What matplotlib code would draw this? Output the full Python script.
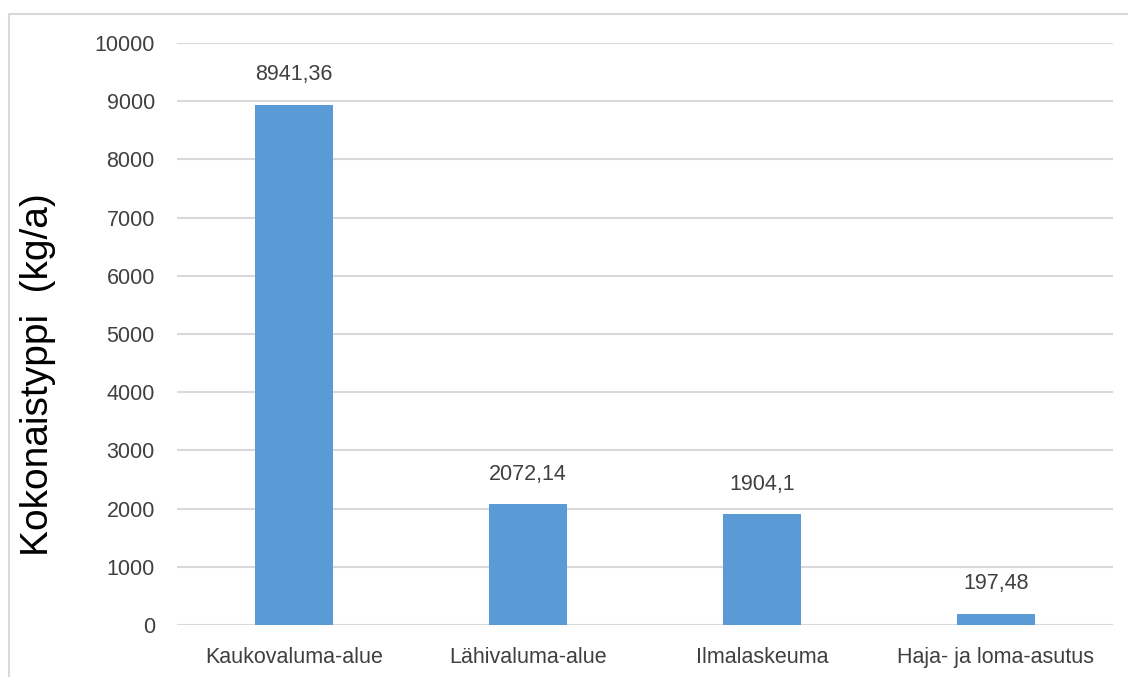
import numpy as np
import matplotlib.pyplot as plt
from matplotlib.patches import Rectangle

categories = ['Kaukovaluma-alue', 'Lähivaluma-alue', 'Ilmalaskeuma', 'Haja- ja loma-asutus']
values = [8941.36, 2072.14, 1904.1, 197.48]
value_labels = ['8941,36', '2072,14', '1904,1', '197,48']
yticks = [0, 1000, 2000, 3000, 4000, 5000, 6000, 7000, 8000, 9000, 10000]

plt.rcParams['font.family'] = ['Liberation Sans', 'DejaVu Sans']
textcol = '#404040'
gridcol = '#d9d9d9'

fig = plt.figure(figsize=(11.28, 6.77), dpi=100)
ax = fig.add_axes([0.1569, 0.0768, 0.8298, 0.8597])

# ulkoreunus (rajattu kuvan oikealta ja alhaalta)
fig.patches.append(Rectangle((0.008, -0.05), 1.1, 0.05 + 0.979, transform=fig.transFigure,
                             fill=False, edgecolor=gridcol, linewidth=1.5))

x = np.arange(len(categories))
ax.bar(x, values, width=0.333, color='#5b9bd5', zorder=3)

for xi, v, lab in zip(x, values, value_labels):
    ax.annotate(lab, (xi, v), xytext=(0, 14), textcoords='offset points',
                ha='center', va='bottom', fontsize=15.5, color=textcol)

ax.set_xlim(-0.5, 3.5)
ax.set_ylim(0, 10000)
ax.set_yticks(yticks)
ax.set_yticklabels([str(t) for t in yticks])
ax.set_xticks(x)
ax.set_xticklabels(categories)
ax.tick_params(axis='both', length=0, labelsize=15.5, colors=textcol)
ax.tick_params(axis='y', pad=16)
ax.tick_params(axis='x', pad=16)
ax.grid(axis='y', color=gridcol, linewidth=1.5, zorder=0)
for s in ax.spines.values():
    s.set_visible(False)

fig.text(0.034, 0.446, 'Kokonaistyppi  (kg/a)', rotation=90, ha='center', va='center',
         fontsize=28, color='black')

fig.savefig('out.png', dpi=100)
